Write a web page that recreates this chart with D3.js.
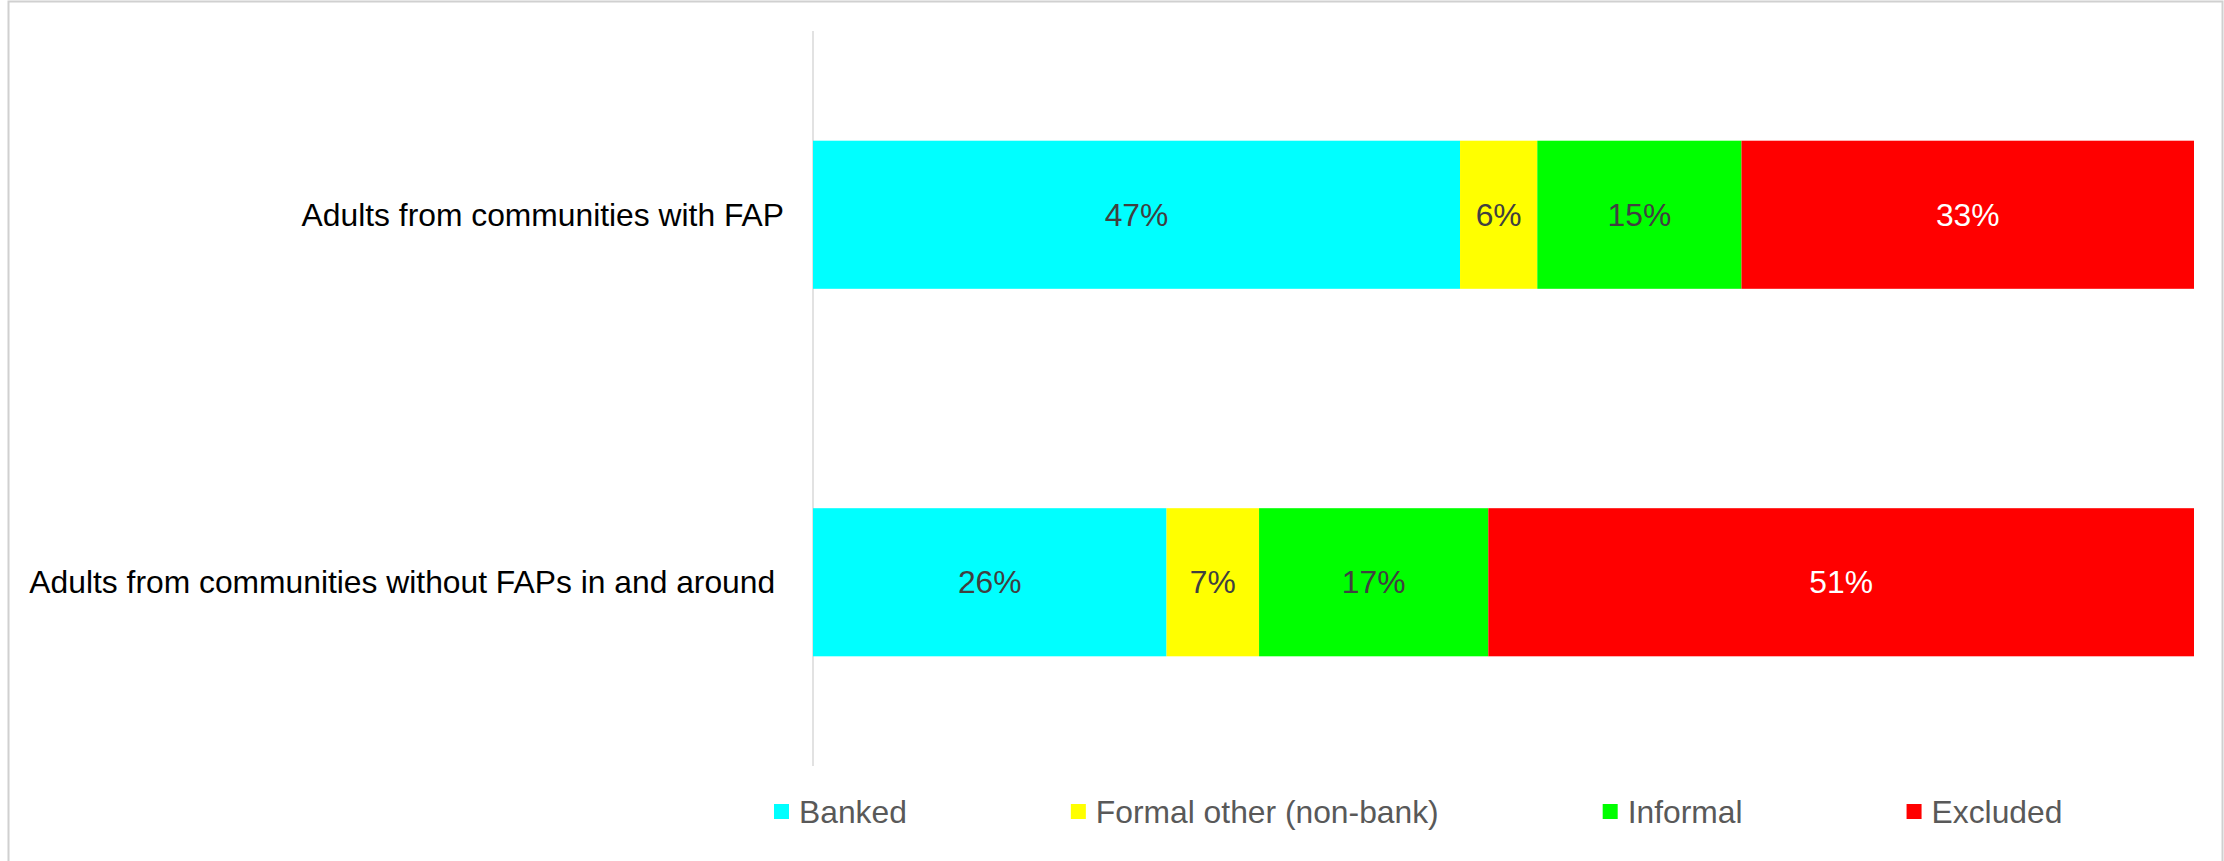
<!DOCTYPE html>
<html>
<head>
<meta charset="utf-8">
<script src="https://cdn.jsdelivr.net/npm/d3@7"></script>
<style>
  html, body { margin: 0; padding: 0; background: #fff; }
  svg { display: block; }
</style>
</head>
<body>
<div id="chart"></div>
<script>
// ---- data ----
const categories = [
  "Adults from communities with FAP",
  "Adults from communities without FAPs in and around "
];
const seriesNames = ["Banked", "Formal other (non-bank)", "Informal", "Excluded"];
const banked   = [46.9, 25.6];
const formal   = [5.6, 6.7];
const informal = [14.8, 16.6];
const excluded = [32.8, 51.1];
const dataLabels = [
  ["47%", "6%", "15%", "33%"],
  ["26%", "7%", "17%", "51%"]
];
const colors = ["#00FFFF", "#FFFF00", "#00FF00", "#FF0000"];
const labelColors = ["#404040", "#404040", "#404040", "#FFFFFF"];

// ---- layout ----
const W = 2224, H = 861;
const plot = { left: 813, right: 2194, top: 31, bottom: 766 };
const fontFamily = "'Liberation Sans', Arial, sans-serif";
const fontSize = 31.8;

const svg = d3.select("#chart").append("svg")
  .attr("width", W).attr("height", H);

// outer frame
svg.append("rect")
  .attr("x", 8.5).attr("y", 1.5)
  .attr("width", 2214).attr("height", H + 10)
  .attr("fill", "#fff").attr("stroke", "#d0d0d0").attr("stroke-width", 2);

const rows = categories.map((c, i) => ({
  cat: c,
  "Banked": banked[i],
  "Formal other (non-bank)": formal[i],
  "Informal": informal[i],
  "Excluded": excluded[i]
}));

const stack = d3.stack().keys(seriesNames).offset(d3.stackOffsetExpand);
const stacked = stack(rows);

const x = d3.scaleLinear().domain([0, 1]).range([plot.left, plot.right]);
const y = d3.scaleBand().domain(categories).range([plot.top, plot.bottom])
  .paddingInner(0.597).paddingOuter(0.2985);

// vertical axis line
svg.append("line")
  .attr("x1", plot.left).attr("x2", plot.left)
  .attr("y1", plot.top).attr("y2", plot.bottom)
  .attr("stroke", "#d9d9d9").attr("stroke-width", 1.5);

// bars
stacked.forEach((layer, si) => {
  const g = svg.append("g");
  g.selectAll("rect").data(layer).join("rect")
    .attr("x", d => x(d[0]))
    .attr("y", d => y(d.data.cat))
    .attr("width", d => x(d[1]) - x(d[0]))
    .attr("height", y.bandwidth())
    .attr("fill", colors[si]);
  g.selectAll("text").data(layer).join("text")
    .attr("x", d => (x(d[0]) + x(d[1])) / 2)
    .attr("y", d => y(d.data.cat) + y.bandwidth() / 2)
    .attr("dy", "0.35em")
    .attr("text-anchor", "middle")
    .attr("font-family", fontFamily)
    .attr("font-size", fontSize)
    .attr("fill", labelColors[si])
    .text((d, i) => dataLabels[i][si]);
});

// category labels
svg.append("g").selectAll("text").data(categories).join("text")
  .attr("x", plot.left - 29)
  .attr("y", d => y(d) + y.bandwidth() / 2)
  .attr("dy", "0.35em")
  .attr("text-anchor", "end")
  .attr("font-family", fontFamily)
  .attr("font-size", fontSize)
  .attr("fill", "#000")
  .style("white-space", "pre")
  .text(d => d);

// legend
const legend = svg.append("g");
let lx = 774;
const ly = 812;
const sw = 15;
seriesNames.forEach((name, i) => {
  const item = legend.append("g");
  item.append("rect")
    .attr("x", lx).attr("y", ly - 8)
    .attr("width", sw).attr("height", sw)
    .attr("fill", colors[i]);
  const t = item.append("text")
    .attr("x", lx + sw + 10)
    .attr("y", ly)
    .attr("dy", "0.35em")
    .attr("font-family", fontFamily)
    .attr("font-size", fontSize)
    .attr("fill", "#595959")
    .text(name);
  const tw = t.node().getComputedTextLength();
  lx = lx + sw + 10 + tw + 164;
});
</script>
</body>
</html>
